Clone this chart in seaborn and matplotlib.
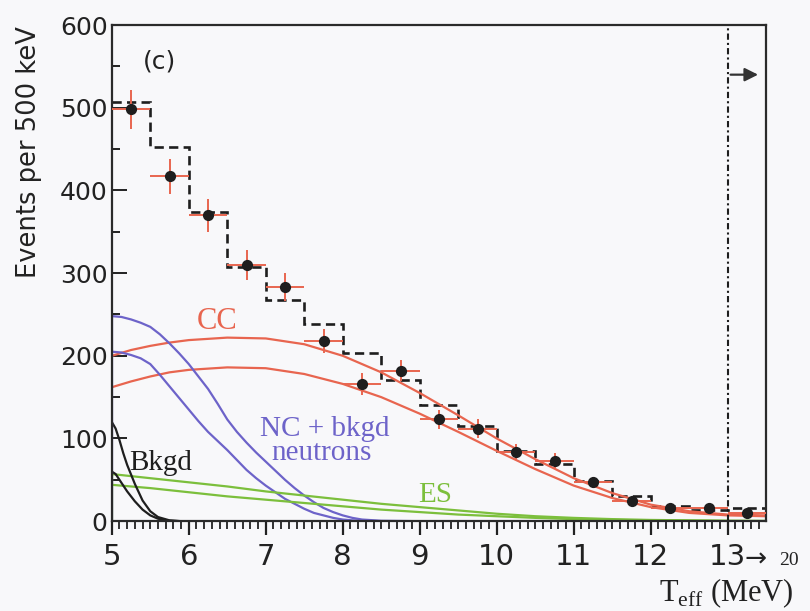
import numpy as np
import pandas as pd
import matplotlib
matplotlib.use("Agg")
import matplotlib.pyplot as plt
import seaborn as sns

# ---------------- data ----------------
bin_centers = [5.25, 5.75, 6.25, 6.75, 7.25, 7.75, 8.25, 8.75, 9.25, 9.75,
               10.25, 10.75, 11.25, 11.75, 12.25, 12.75, 13.25]
events = [498, 417, 370, 310, 283, 218, 166, 182, 123, 112,
          84, 73, 47, 24, 16, 16, 10]
event_err = [24, 21, 20, 18, 17, 15, 13, 13, 11, 11, 9, 9, 7, 5, 4, 4, 3]
bin_halfwidth = [0.25] * 17

fit_edges = [5.0, 5.5, 6.0, 6.5, 7.0, 7.5, 8.0, 8.5, 9.0, 9.5, 10.0,
             10.5, 11.0, 11.5, 12.0, 12.5, 13.0, 13.5]
fit_total = [507, 453, 374, 307, 267, 238, 203, 171, 140, 115, 85,
             69, 48, 31, 18, 14, 16]

cc_x = [5.0, 5.25, 5.5, 5.75, 6.0, 6.5, 7.0, 7.5, 8.0, 8.5, 9.0, 9.5, 10.0,
        10.5, 11.0, 11.5, 12.0, 12.5, 13.0, 13.5]
cc_upper = [200, 207, 212, 216, 219, 222, 221, 214, 200, 180, 155, 128, 100,
            75, 52, 34, 20, 12, 8, 7]
cc_lower = [162, 169, 175, 180, 183, 186, 185, 178, 166, 150, 130, 108, 85,
            63, 43, 28, 17, 10, 7, 6]

nc_x = [5.0, 5.125, 5.25, 5.375, 5.5, 5.625, 5.75, 5.875, 6.0, 6.125, 6.25,
        6.375, 6.5, 6.625, 6.75, 6.875, 7.0, 7.125, 7.25, 7.375, 7.5, 7.625,
        7.75, 7.875, 8.0, 8.125, 8.25, 8.5, 9.0, 10.0, 11.0, 12.0, 13.0, 13.5]
nc_upper = [248, 247, 244, 240, 235, 226, 215, 203, 190, 175, 160, 142,
            123, 108, 95, 83, 72, 61, 50, 40, 31, 23, 16, 11, 7, 4, 2, 0.5,
            0, 0, 0, 0, 0, 0]
nc_lower = [205, 204, 201, 197, 190, 177, 163, 149, 135, 121, 108, 97,
            86, 74, 62, 52, 43, 35, 27, 21, 15, 10, 7, 4, 2, 1, 0.5, 0,
            0, 0, 0, 0, 0, 0]

bk_x = [5.0, 5.05, 5.1, 5.15, 5.2, 5.3, 5.4, 5.5, 5.6, 5.75, 5.9, 6.2]
bk_upper = [120, 112, 98, 82, 68, 45, 25, 12, 5, 1, 0, 0]
bk_lower = [60, 57, 50, 43, 36, 24, 14, 7, 3, 0.5, 0, 0]

es_x = [5.0, 5.5, 6.0, 6.5, 7.0, 7.5, 8.0, 8.5, 9.0, 9.5, 10.0, 10.5,
        11.0, 11.5, 12.0, 13.0, 13.5]
es_upper = [57, 52, 47, 42, 36, 31, 26, 21, 17, 13, 9, 6, 4, 2.5, 1.5, 0.5, 0.3]
es_lower = [44, 40, 35, 30, 26, 22, 18, 14, 11, 8, 6, 4, 2.5, 1.5, 1, 0.3, 0.2]

x_ticks = [5, 6, 7, 8, 9, 10, 11, 12, 13]
y_ticks = [0, 100, 200, 300, 400, 500, 600]

# ---------------- style ----------------
RED = "#e8654f"
BLUE = "#6d63c9"
GREEN = "#7cbf3c"
BLACK = "#1e1e1e"
BG = "#f8f8fa"
INK = "#222222"

sns.set_theme(style="ticks")
plt.rcParams["font.family"] = ["DejaVu Sans"]
plt.rcParams["mathtext.fontset"] = "custom"
plt.rcParams["mathtext.rm"] = "Liberation Serif"
plt.rcParams["xtick.bottom"] = True
plt.rcParams["ytick.left"] = True

fig = plt.figure(figsize=(8.1, 6.11), dpi=100, facecolor=BG)
ax = fig.add_axes([0.138, 0.147, 0.808, 0.812])
ax.set_facecolor(BG)

lw = 1.6
curves = [
    (cc_x, cc_upper, RED), (cc_x, cc_lower, RED),
    (nc_x, nc_upper, BLUE), (nc_x, nc_lower, BLUE),
    (es_x, es_upper, GREEN), (es_x, es_lower, GREEN),
    (bk_x, bk_upper, BLACK), (bk_x, bk_lower, BLACK),
]
for xs, ys, col in curves:
    df = pd.DataFrame({"x": xs, "y": ys})
    sns.lineplot(data=df, x="x", y="y", ax=ax, color=col, lw=lw,
                 estimator=None, sort=False)

# vertical threshold edges of the curves at x=5
ax.vlines(nc_x[0], 0, nc_upper[0], color=BLUE, lw=lw)
ax.vlines(es_x[0], 0, es_upper[0], color=GREEN, lw=lw)

# dashed total-fit histogram
ax.stairs(fit_total, fit_edges, color=BLACK, lw=1.9, ls=(0, (3.5, 2)),
          baseline=None)

# data points
ax.errorbar(bin_centers, events, yerr=event_err, xerr=bin_halfwidth,
            fmt="none", ecolor=RED, elinewidth=1.4, capsize=0, zorder=4)
pts = pd.DataFrame({"x": bin_centers, "y": events})
sns.scatterplot(data=pts, x="x", y="y", ax=ax, color=BLACK, s=65,
                edgecolor=BLACK, linewidth=0, zorder=5)

# 13 MeV overflow boundary
ax.axvline(13, color=BLACK, lw=1.5, ls=(0, (3, 1.5, 1, 1.5)))
ax.annotate("", xy=(13.43, 540), xytext=(13.0, 540),
            arrowprops=dict(arrowstyle="-|>", color="#333333", lw=1.6,
                            mutation_scale=20))

# axes
ax.set_xlim(5, 13.5)
ax.set_ylim(0, 600)
ax.set_xticks(x_ticks)
ax.set_yticks(y_ticks)
ax.set_xticks(np.arange(5.1, 13.5, 0.1), minor=True)
ax.set_yticks(np.arange(0, 601, 50), minor=True)
ax.tick_params(axis="y", which="major", direction="in", length=11, width=1.4,
               labelsize=18, pad=3, color=INK, labelcolor=INK, left=True,
               right=False)
ax.tick_params(axis="y", which="minor", direction="in", length=6, width=1.4,
               color=INK, left=True, right=False)
ax.tick_params(axis="x", which="major", direction="out", length=10, width=1.6,
               labelsize=21, pad=6, color=INK, labelcolor=INK, bottom=True,
               top=False)
ax.tick_params(axis="x", which="minor", direction="out", length=6, width=1.3,
               color=INK, bottom=True, top=False)

for sp in ax.spines.values():
    sp.set_color("#2a2a2a")
    sp.set_linewidth(1.6)
    sp.set_visible(True)

ax.set_xlabel("")
ax.set_ylabel("Events per 500 keV", fontsize=18.5, color=INK)
ax.yaxis.set_label_coords(-0.106, 0.745)

# texts
serif = "Liberation Serif"
xtr = ax.get_xaxis_transform()
ax.text(5.62, 556, "(c)", fontsize=18, color=INK, ha="center", va="center")
ax.text(6.37, 241, "CC", fontsize=22, color=RED, family=serif,
        ha="center", va="center")
ax.text(7.77, 112, "NC + bkgd", fontsize=21, color=BLUE, family=serif,
        ha="center", va="center")
ax.text(7.73, 82, "neutrons", fontsize=21, color=BLUE, family=serif,
        ha="center", va="center")
ax.text(5.23, 70, "Bkgd", fontsize=21, color=BLACK, family=serif,
        ha="left", va="center")
ax.text(9.2, 32, "ES", fontsize=21, color=GREEN, family=serif,
        ha="center", va="center")

# x-axis extras
ax.text(13.36, -0.077, "\u2192", transform=xtr,
        fontsize=19, color=INK, ha="center", va="center")
ax.text(13.79, -0.08, "20", transform=xtr,
        fontsize=14, color=INK, ha="center", va="center", family=serif,
        clip_on=False)
ax.text(13.86, -0.145, r"T$_{\rm eff}$ (MeV)", transform=xtr,
        fontsize=22, color=INK, ha="right", va="center", family=serif,
        clip_on=False)

fig.savefig("out.png", dpi=100, facecolor=BG)
